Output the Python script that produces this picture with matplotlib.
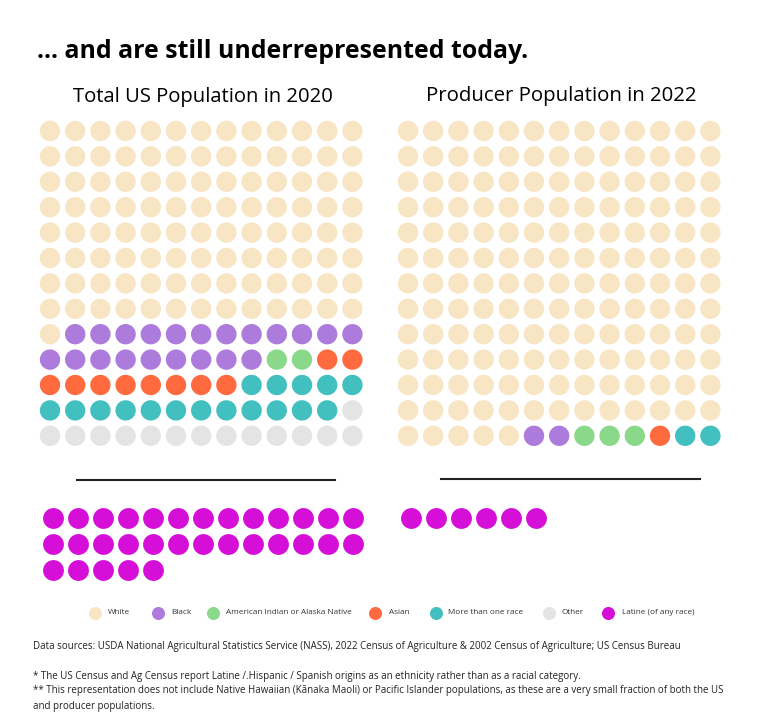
import matplotlib.pyplot as plt

plt.rcParams['font.family'] = ['Open Sans', 'DejaVu Sans']

# categories and dot counts (out of 169 dots per grid)
groups = ["White", "Black", "American Indian or Alaska Native", "Asian",
          "More than one race", "Other", "Latine (of any race)"]
colors = ["#F7E5C3", "#AD7BDC", "#8AD98A", "#FF6B3F", "#42BFBF", "#E4E4E4", "#D50FD8"]
us_counts = [105, 21, 2, 10, 17, 14]
prod_counts = [161, 2, 3, 1, 2, 0]
us_latine = 31
prod_latine = 6

ncols = 13

fig = plt.figure(figsize=(7.68, 7.27), dpi=100)
ax = fig.add_axes([0, 0, 1, 1])
ax.set_xlim(0, 768)
ax.set_ylim(727, 0)
ax.axis("off")


def waffle(x0, y0, counts, dx=25.2, dy=25.4):
    cols = []
    for c, n in zip(colors, counts):
        cols += [c] * n
    xs = [x0 + (i % ncols) * dx for i in range(len(cols))]
    ys = [y0 + (i // ncols) * dy for i in range(len(cols))]
    ax.scatter(xs, ys, s=215, c=cols, linewidths=0)


def latine(x0, y0, n, dx=25.0, dy=26.0):
    xs = [x0 + (i % ncols) * dx for i in range(n)]
    ys = [y0 + (i // ncols) * dy for i in range(n)]
    ax.scatter(xs, ys, s=225, c=colors[6], linewidths=0)


waffle(50, 131, us_counts)
waffle(408, 131, prod_counts)
latine(53, 518, us_latine)
latine(411, 518, prod_latine)

ax.plot([77, 335], [480, 480], color="#222222", lw=1.5)
ax.plot([441, 700], [479, 479], color="#222222", lw=1.5)

ax.text(37, 51, "... and are still underrepresented today.", fontsize=17.9,
        fontweight="bold", va="center", ha="left")
ax.text(202.5, 97, "Total US Population in 2020", fontsize=14.6, va="center", ha="center")
ax.text(561, 96, "Producer Population in 2022", fontsize=14.7, va="center", ha="center")

# legend
leg_marker_x = [95, 157.5, 212.5, 375, 436, 549, 608]
leg_text_x = [107.5, 171.5, 226.5, 389, 448, 562, 621.5]
for gx, tx, g, c in zip(leg_marker_x, leg_text_x, groups, colors):
    ax.scatter([gx], [612.5], s=88, c=c, linewidths=0)
    ax.text(tx, 612.5, g, fontsize=5.9, va="center", ha="left", color="#333333")

foot = [
    (647, "Data sources: USDA National Agricultural Statistics Service (NASS), 2022 Census of Agriculture & 2002 Census of Agriculture; US Census Bureau"),
    (676, "* The US Census and Ag Census report Latine /.Hispanic / Spanish origins as an ethnicity rather than as a racial category."),
    (691, "** This representation does not include Native Hawaiian (K\u0101naka Maoli) or Pacific Islander populations, as these are a very small fraction of both the US"),
    (706, "and producer populations."),
]
for fy, t in foot:
    ax.text(33, fy, t, fontsize=7.05, va="center", ha="left", color="#222222")

fig.savefig("out.png", dpi=100)
